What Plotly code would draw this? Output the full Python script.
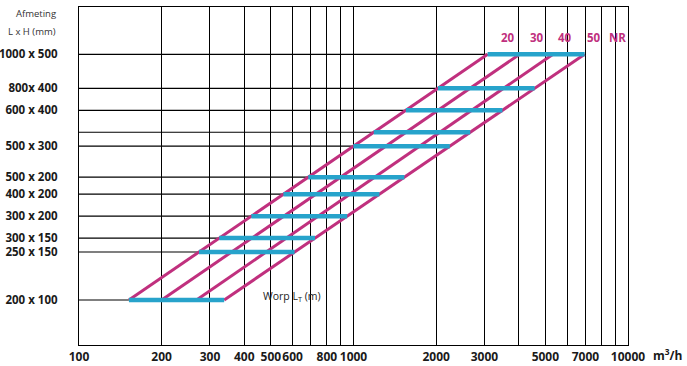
import numpy as np
import plotly.graph_objects as go

# Duct sizes (L x H, mm) and their cross-section areas (mm^2)
size_labels = ["200 x 100", "250 x 150", "300 x 150", "300 x 200", "400 x 200",
               "500 x 200", "500 x 300", "", "600 x 400", "800x 400", "1000 x 500"]
size_L = [200, 250, 300, 300, 400, 500, 500, 600, 600, 800, 1000]
size_H = [100, 150, 150, 200, 200, 200, 300, 300, 400, 400, 500]

# NR curves: airflow (m3/h) at smallest (200x100) and largest (1000x500) duct
nr_values = [20, 30, 40, 50]
flow_small = [152, 200, 268, 338]
flow_large = [3080, 4030, 5330, 6950]

# x axis grid / tick labels
x_grid = [100, 200, 300, 400, 500, 600, 700, 800, 900,
          1000, 2000, 3000, 4000, 5000, 6000, 7000, 8000, 9000, 10000]
x_labels = ["100", "200", "300", "400", "500", "600", "", "800", "",
            "1000", "2000", "3000", "", "5000", "", "7000", "", "", "10000"]

MAGENTA = "#C0307E"
BLUE = "#27A3CB"
FONT = "Open Sans"

areas = [l * h for l, h in zip(size_L, size_H)]
a_lo, a_hi = areas[0], areas[-1]


def flow_on_line(i, area):
    t = (np.log10(area) - np.log10(a_lo)) / (np.log10(a_hi) - np.log10(a_lo))
    return 10 ** (np.log10(flow_small[i]) + t * (np.log10(flow_large[i]) - np.log10(flow_small[i])))


fig = go.Figure()

# black leader lines from the axis to the first NR line
lx, ly = [], []
for a in areas:
    lx += [x_grid[0], flow_on_line(0, a), None]
    ly += [a, a, None]
fig.add_trace(go.Scatter(x=lx, y=ly, mode="lines", line=dict(color="black", width=1.2),
                         hoverinfo="skip", showlegend=False))

for q0, q1 in zip(flow_small, flow_large):
    fig.add_trace(go.Scatter(x=[q0, q1], y=[a_lo, a_hi], mode="lines",
                             line=dict(color=MAGENTA, width=3), hoverinfo="skip",
                             showlegend=False))

bx, by = [], []
for a in areas:
    bx += [flow_on_line(0, a), flow_on_line(len(nr_values) - 1, a), None]
    by += [a, a, None]
fig.add_trace(go.Scatter(x=bx, y=by, mode="lines", line=dict(color=BLUE, width=4.5),
                         hoverinfo="skip", showlegend=False))

W, H = 687, 366
L_PX, R_PX, T_PX, B_PX = 79, 628, 7, 345

fig.update_layout(
    width=W, height=H,
    margin=dict(l=L_PX, r=W - R_PX, t=T_PX, b=H - B_PX, autoexpand=False),
    paper_bgcolor="white", plot_bgcolor="white",
    font=dict(family=FONT, color="#1a1a1a"),
    xaxis=dict(type="log", range=[2, 4], tickmode="array", tickvals=x_grid,
               ticktext=x_labels, showgrid=True, gridcolor="black", gridwidth=1.1,
               showline=True, linecolor="black", linewidth=1.3, mirror=True,
               ticks="", zeroline=False, automargin=False, tickangle=0,
               tickfont=dict(family=FONT, size=12, weight="bold", color="#1a1a1a")),
    yaxis=dict(type="log", range=[4.045, 5.968], tickmode="array", tickvals=areas,
               ticktext=size_labels, showgrid=False,
               showline=True, linecolor="black", linewidth=1.3, mirror=True,
               ticks="outside", ticklen=18, tickcolor="rgba(0,0,0,0)", zeroline=False,
               automargin=False,
               tickfont=dict(family=FONT, size=11.5, weight="bold", color="#1a1a1a")),
)


def px_x(p):
    return (p - L_PX) / (R_PX - L_PX)


def px_y(p):
    return (B_PX - p) / (B_PX - T_PX)


ann = [
    dict(text="Afmeting", x=px_x(58), y=px_y(14), xanchor="right", size=9.5, weight="normal", color="#333"),
    dict(text="L x H (mm)", x=px_x(58), y=px_y(31), xanchor="right", size=9.5, weight="normal", color="#333"),
    dict(text="m<sup>3</sup>/h", x=px_x(684), y=px_y(355), xanchor="right", size=12, weight="bold", color="#1a1a1a"),
    dict(text="Worp L<sub>T</sub> (m)", x=px_x(261), y=px_y(296), xanchor="left", size=10.5, weight="normal", color="#222"),
]
nr_label_px = [508, 537, 565, 594]
for v, p in zip(nr_values, nr_label_px):
    ann.append(dict(text=str(v), x=px_x(p), y=px_y(37), xanchor="center", size=11.5, weight="bold", color=MAGENTA))
ann.append(dict(text="NR", x=px_x(617), y=px_y(37), xanchor="center", size=11.5, weight="bold", color=MAGENTA))

for a in ann:
    fig.add_annotation(text=a["text"], xref="paper", yref="paper", x=a["x"], y=a["y"],
                       xanchor=a["xanchor"], yanchor="middle", showarrow=False,
                       font=dict(family=FONT, size=a["size"], weight=a["weight"], color=a["color"]))

# remove the default page margin so the figure sits at the window's top-left corner
fig.write_html("out.html", config={"displayModeBar": False},
               post_script="document.body.style.margin='0px';")
